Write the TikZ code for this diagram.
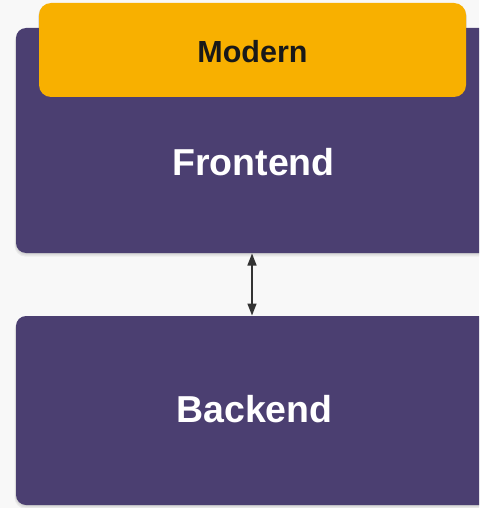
\documentclass[tikz,border=0pt]{standalone}
\usepackage{fontspec}
\setmainfont{Liberation Sans}
\usetikzlibrary{arrows.meta,calc}
\definecolor{bg}{HTML}{F8F8F8}
\definecolor{purp}{HTML}{4B3F71}
\definecolor{orng}{HTML}{F8B000}
\definecolor{arr}{HTML}{333333}
\tikzset{
  panel/.style={fill=purp, rounded corners=10pt, inner sep=0pt, outer sep=0pt},
  tag/.style={fill=orng, rounded corners=12pt, inner sep=0pt, outer sep=0pt},
  bigtext/.style={text=white, font=\bfseries\fontsize{37.5}{42}\selectfont, inner sep=0pt, anchor=base},
  tagtext/.style={text=black!90, font=\bfseries\fontsize{30.5}{35}\selectfont, inner sep=0pt, anchor=base},
  link/.style={arr, line width=1.5pt, {Triangle[length=12pt,width=9pt]}-{Triangle[length=12pt,width=9pt]}},
  shade1/.style={fill=black, opacity=0.05, rounded corners=11pt}
}
\begin{document}
\begin{tikzpicture}[x=1pt,y=-1pt]
\useasboundingbox (0,0) rectangle (479,508);
\clip (0,0) rectangle (479,508);
\fill[bg] (0,0) rectangle (479,508);
% soft shadows
\foreach \d in {1,2,3}{
  \fill[shade1] (16-\d*0.5,28+\d) rectangle (490+\d*0.5,253+\d*1.2);
  \fill[shade1] (16-\d*0.5,316+\d) rectangle (490+\d*0.5,505+\d*1.2);
  \fill[shade1] (39-\d*0.3,3+\d) rectangle (466+\d*0.3,97+\d*1.0);
}
\node[panel, minimum width=474pt, minimum height=225pt, anchor=north west] (front) at (16,28) {};
\node[panel, minimum width=474pt, minimum height=189pt, anchor=north west] (back) at (16,316) {};
\node[tag, minimum width=427pt, minimum height=94pt, anchor=north west] (modern) at (39,3) {};
\node[tagtext] (modernlabel) at (252.5,63) {Modern};
\node[bigtext] (frontlabel) at (253.5,175.5) {Frontend};
\node[bigtext] (backlabel) at (254.5,422.5) {Backend};
\draw[link] ($(front.south)+(-1,0.5)$) -- ($(back.north)+(-1,-0.5)$);
\end{tikzpicture}
\end{document}
